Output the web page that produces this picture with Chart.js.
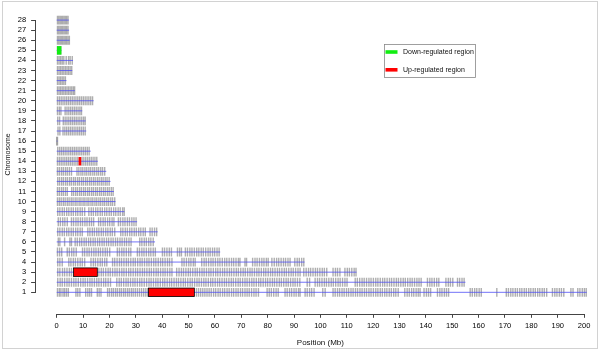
<!DOCTYPE html>
<html><head><meta charset="utf-8">
<script src="https://cdn.jsdelivr.net/npm/chart.js@4/dist/chart.umd.min.js"></script>
<style>
html,body{margin:0;padding:0;background:#fff;overflow:hidden;width:600px;height:353px;position:relative}
#wrap{position:absolute;left:0;top:-15px;width:611px;height:368px}
#frame{position:absolute;box-sizing:border-box;left:2px;top:1px;width:596px;height:348px;border:1.5px solid #d2d2d2;pointer-events:none}
</style></head>
<body>
<div id="wrap"><canvas id="c" width="611" height="368"></canvas></div>
<div id="frame"></div>
<script>
// ---- data ----
const chromosomes = [1,2,3,4,5,6,7,8,9,10,11,12,13,14,15,16,17,18,19,20,21,22,23,24,25,26,27,28];
const chrLengths = [201, 155, 113.7, 94, 62, 37.3, 38.3, 30.5, 25.7, 22.3, 21.7, 20.4, 18.8, 15.6, 12.9, 0.3, 11.2, 11, 9.7, 14, 6.9, 3.7, 5.9, 6.2, 1.8, 4.9, 4.7, 4.6];
const xTickValues = [0,10,20,30,40,50,60,70,80,90,100,110,120,130,140,150,160,170,180,190,200];

const regionChr = [1, 3, 14, 25];
const regionStart = [34.8, 6.4, 8.3, 0.1];
const regionEnd = [52.2, 15.4, 9.3, 1.8];
const regionType = ['up', 'up', 'up', 'down'];

const legendLabels = ['Down-regulated region', 'Up-regulated region'];
const xTitle = 'Position (Mb)';
const yTitle = 'Chromosome';

const markers1 = [0.3,1,1.6,2.4,3,3.7,4.4,7.3,8,8.8,11,11.8,12.5,13.2,15.4,16.1,16.8,19.3,20,20.8,21.5,22.3,23,23.8,24.5,25.3,26,26.8,27.5,28.3,29,29.8,30.6,31.4,32.2,33,33.8,34.5,53,53.8,54.6,55.4,56.2,57,57.8,58.6,59.5,60.3,61.2,62,62.9,63.7,64.6,65.4,66.3,67.1,68,68.8,69.7,70.5,71.4,72.2,73,73.9,74.8,75.6,76.5,79.8,80.6,81.4,82.3,83.2,84,86.6,87.4,88.3,89.1,90,90.8,91.7,92.3,94.2,95,95.9,96.7,97.6,100.9,101.8,104.8,105.6,106.5,107.3,108.2,109,109.9,110.7,111.6,112.4,113.3,114.1,115,115.8,116.7,117.5,118.4,119.2,120.1,121,121.8,122.7,123.5,124.4,125.2,126.1,126.9,127.8,128.6,129.5,132,132.9,133.7,134.6,135.4,136.3,137.1,137.8,139.3,140.2,141,141.8,144.4,145.3,146.1,147,147.8,148.6,156.8,157.6,158.5,159.3,160.2,161,166.9,170.5,171.3,172.2,173,173.9,174.7,175.6,176.4,177.3,178.1,179,179.8,180.7,181.5,182.4,183.2,184.1,184.9,185.8,188,188.9,189.7,190.6,191.4,192.3,195,195.8,197.6,198.4,199.3,200.1,200.8];
const markers2 = [0.4,1.3,2.1,3,3.9,4.7,5.6,6.5,7.3,8.2,9.1,10,10.8,11.7,12.6,13.4,14.3,15.2,16,16.9,17.8,18.6,19.5,20.4,22.8,23.7,24.5,25.4,26.3,27.1,28,28.9,29.7,30.6,31.5,32.3,33.2,34.1,35,35.8,36.7,37.6,38.4,39.3,40.2,41,41.9,42.8,43.6,44.5,45.4,46.2,47.1,48,48.8,49.7,50.6,51.4,52.3,53.2,54,54.9,55.8,56.6,57.5,58.4,59.2,60.1,61,61.8,62.7,63.6,64.4,65.3,66.2,67,67.9,68.8,69.6,70.5,71.4,72.2,73.1,74,74.8,75.7,76.6,77.4,78.3,79.2,80,80.9,81.8,82.6,83.5,84.4,85.2,86.1,87,87.8,88.7,89.6,90.4,91.3,92.2,95,95.9,98,98.9,99.7,100.6,101.5,102.3,103.2,104.1,104.9,105.8,106.7,107.5,108.4,109.3,110.1,113.2,114,114.9,115.8,116.6,117.5,118.4,119.2,120.1,121,121.8,122.7,123.6,124.4,125.3,126.2,127,127.9,128.8,129.6,130.5,131.4,132.2,133.1,134,134.8,135.7,136.6,137.4,138.2,140.6,141.5,142.3,143.2,144.1,144.9,147.6,148.5,149.3,150.2,152,152.8,153.7,154.5];
const markers3 = [0.4,1.2,2.2,3,3.9,4.8,5.6,16,16.9,17.7,18.6,19.5,20.3,21.2,22.1,22.9,23.8,24.7,25.5,26.4,27.3,28.1,29,29.9,30.7,31.6,32.5,33.3,34.2,35.1,35.9,36.8,37.7,38.5,39.4,40.3,41.1,42,42.9,43.7,45.5,46.4,47.3,48.1,49,49.9,50.7,51.6,52.5,53.3,54.2,55.1,55.9,56.8,57.7,58.5,59.4,60.3,61.1,62,62.9,63.7,64.6,65.5,66.3,67.2,68.1,68.9,69.8,70.7,71.5,72.4,73.3,74.1,75,75.9,76.7,77.6,78.5,79.3,80.2,81.1,81.9,82.8,83.7,84.5,85.4,86.3,87.1,88,88.9,89.7,90.6,91.5,92.3,93.7,94.6,95.5,96.3,97.2,98.1,98.9,99.8,100.7,101.5,102.4,104.8,105.7,106.5,107.4,109.3,110.2,111,111.9,112.8,113.5];
const markers4 = [0.4,1.2,2.1,4.6,5.4,6.3,7.1,8,8.9,9.7,10.6,13,13.9,14.7,15.6,16.5,17.3,18.2,19,21.2,22,22.9,23.8,24.6,25.5,26.4,27.2,28.1,29,29.8,30.7,31.6,32.4,33.3,34.2,35,35.9,36.8,37.6,38.5,39.4,40.2,41.1,42,42.8,43.7,47.5,48.3,49.2,50.1,50.9,51.8,52.5,55,55.9,56.7,57.6,58.5,59.3,60.2,61.1,61.9,62.8,63.7,64.5,65.4,66.3,67.1,68,68.9,69.5,71.4,72,74.3,75.2,76,76.9,77.8,78.6,79.5,80.2,81.6,82.5,83.4,84.2,85.1,86,86.8,87.7,88.5,90.3,91.2,92,92.9,93.7];
const markers5 = [0.3,1.1,1.9,4,4.8,5.7,6.5,7.4,9.8,10.6,11.5,12.3,13.2,14.1,14.9,15.8,16.6,17.5,18.4,19.2,20.1,23,23.8,24.7,25.5,26.4,27.3,28.1,30.6,31.4,32.3,33.1,34,34.9,35.7,36.6,37.4,40.1,40.9,41.8,42.7,43.5,45.8,46.6,47.3,48.8,49.6,50.5,51.3,52.2,53.1,53.9,54.8,55.6,56.5,57.4,58.2,59.1,59.9,60.8,61.6];
const markers6 = [0.6,1.2,3,5,5.6,7,7.8,8.7,9.5,10.4,11.2,12.1,12.9,13.8,14.6,15.5,16.3,17.2,18,18.9,19.7,20.6,21.4,22.3,23.1,24,24.8,25.7,26.5,27.4,28.2,31.5,32.3,33.2,34,34.9,35.7,36.6];
const markers7 = [0.4,1.2,2.1,2.9,3.8,4.6,5.5,6.3,7.2,8,8.9,9.7,11.8,12.6,13.5,14.3,15.2,16,16.9,17.7,18.6,19.4,20.3,21.1,22,24.3,25.1,26,26.8,27.7,28.5,29.4,30.2,31.1,31.9,32.8,33.6,35.4,36.2,37.1,37.9];
const markers8 = [0.6,1.4,2.3,3.1,4,5.6,6.4,7.3,8.1,9,9.8,10.7,11.5,12.4,13.2,14,15.9,16.7,17.6,18.4,19.3,20.1,21,21.7,23.4,24.2,25.1,25.9,26.8,27.6,28.5,29.3,30.1];
const markers9 = [0.4,1.2,2.1,2.9,3.8,4.6,5.5,6.3,7.2,8,8.9,9.7,10.6,12.2,13.1,13.9,14.8,15.6,16.5,17.3,18.2,19,19.9,20.7,21.6,22.4,23.3,24.1,25,25.6];
const markers10 = [0.3,1,1.7,2.5,3.2,4,4.7,5.5,6.2,7,7.7,8.5,9.2,10,10.7,11.5,12.2,13,13.7,14.5,15.2,16,16.7,17.5,18.2,19,19.7,20.5,21.2,22];
const markers11 = [0.3,1,1.8,2.5,3.3,4,5.7,6.4,7.2,7.9,8.7,9.4,10.2,10.9,11.7,12.4,13.2,13.9,14.7,15.4,16.2,16.9,17.7,18.4,19.2,19.9,20.7,21.4];
const markers12 = [0.4,1.1,1.9,2.6,3.4,4.1,4.9,5.6,6.4,7.1,7.9,8.6,9.4,10.1,10.9,11.6,12.4,13.1,13.9,14.6,15.4,16.1,16.9,17.6,18.4,19.1,19.9];
const markers13 = [0.3,1,1.8,2.5,3.3,4,4.8,5.6,7.7,8.4,9.2,9.9,10.7,11.4,12.2,12.9,13.7,14.4,15.2,15.9,16.7,17.4,18.2];
const markers14 = [0.3,1,1.7,2.4,3.1,3.8,4.5,5.2,5.9,6.6,7.3,8,9.6,10.3,11,11.7,12.4,13.1,13.8,14.5,15.2];
const markers15 = [0.4,1.1,1.8,2.5,3.2,3.9,4.6,5.3,6,6.7,7.4,8.1,8.8,9.5,10.2,10.9,11.6,12.3];
const markers16 = [0, 0.3];
const markers17 = [0.5,1.2,2.4,3.1,3.8,4.5,5.2,5.9,6.6,7.3,8,8.7,9.4,10.1,10.8];
const markers18 = [0.4,1.1,2.5,3.2,3.9,4.6,5.3,6,6.7,7.4,8.1,8.8,9.5,10.2,10.8];
const markers19 = [0.3,1,1.6,3.2,3.9,4.6,5.3,6,6.7,7.4,8.1,8.8,9.4];
const markers20 = [0.3,1,1.7,2.4,3.1,3.8,4.5,5.2,5.9,6.6,7.3,8,8.7,9.4,10.1,10.8,11.5,12.2,12.9,13.6];
const markers21 = [0.3,0.9,1.5,2.1,2.7,3.3,3.9,4.5,5.1,5.7,6.3,6.8];
const markers22 = [0.3,0.9,1.5,2.1,2.7,3.3];
const markers23 = [0.3,0.9,1.5,2.1,2.7,3.3,3.9,4.5,5.1,5.7];
const markers24 = [0.3,0.9,1.5,2.1,2.7,3.6,4.5,5.1,5.9];
const markers25 = [0.3,0.9,1.5];
const markers26 = [0.3,0.8,1.3,1.8,2.3,2.8,3.3,3.8,4.3,4.8];
const markers27 = [0.3,0.8,1.3,1.8,2.3,2.8,3.3,3.8,4.3];
const markers28 = [0.3,0.8,1.3,1.8,2.3,2.8,3.3,3.8,4.3];

const markerPositions = [markers1,markers2,markers3,markers4,markers5,markers6,markers7,markers8,markers9,markers10,markers11,markers12,markers13,markers14,markers15,markers16,markers17,markers18,markers19,markers20,markers21,markers22,markers23,markers24,markers25,markers26,markers27,markers28];

// ---- build datasets ----
const FONT = "'Liberation Sans', Arial, sans-serif";
const markerData = [];
chromosomes.forEach((c, i) => markerPositions[i].forEach(p => markerData.push({x: p, y: c})));

const datasets = [{
  label: 'markers',
  data: markerData,
  pointStyle: 'line',
  rotation: 90,
  pointRadius: 4.4,
  pointHoverRadius: 4.4,
  pointBorderWidth: 1.4,
  pointBorderColor: 'rgba(120,120,120,0.6)',
  borderColor: 'rgba(120,120,120,0.6)',
  order: 3
}];
chromosomes.forEach((c, i) => {
  datasets.push({
    label: 'chr' + c,
    data: [{x: 0, y: c}, {x: chrLengths[i], y: c}],
    showLine: true,
    borderColor: 'rgba(80,80,245,0.8)',
    borderWidth: 1,
    pointRadius: 0,
    pointHoverRadius: 0,
    order: 2
  });
});

const regionColors = {up: '#ff0000', down: '#11ee11'};

const axisLinePlugin = {
  id: 'axisLines',
  afterDraw(chart) {
    const {ctx, chartArea, scales: {x, y}} = chart;
    ctx.save();
    ctx.strokeStyle = '#444';
    ctx.lineWidth = 1;
    const by = Math.round(chartArea.bottom) + 0.5;
    ctx.beginPath();
    ctx.moveTo(x.getPixelForValue(xTickValues[0]), by);
    ctx.lineTo(x.getPixelForValue(xTickValues[xTickValues.length - 1]), by);
    const lx = Math.round(chartArea.left) - 0.5;
    ctx.moveTo(lx, y.getPixelForValue(chromosomes[0]));
    ctx.lineTo(lx, y.getPixelForValue(chromosomes[chromosomes.length - 1]));
    ctx.stroke();
    ctx.restore();
  }
};

const regionPlugin = {
  id: 'regions',
  afterDatasetsDraw(chart) {
    const {ctx, scales: {x, y}} = chart;
    ctx.save();
    regionChr.forEach((c, i) => {
      const x1 = x.getPixelForValue(regionStart[i]);
      const x2 = x.getPixelForValue(regionEnd[i]);
      const y1 = y.getPixelForValue(c + 0.42);
      const y2 = y.getPixelForValue(c - 0.42);
      ctx.fillStyle = regionColors[regionType[i]];
      ctx.fillRect(x1, y1, x2 - x1, y2 - y1);
      if (x2 - x1 > 10) {
        ctx.strokeStyle = '#000';
        ctx.lineWidth = 0.8;
        ctx.strokeRect(x1, y1, x2 - x1, y2 - y1);
      }
    });
    ctx.restore();
  }
};

const legendPlugin = {
  id: 'customLegend',
  afterDraw(chart) {
    const {ctx} = chart;
    const off = 15; // canvas offset
    ctx.save();
    ctx.strokeStyle = '#888';
    ctx.lineWidth = 0.8;
    ctx.strokeRect(384.5, 44.5 + off, 91, 33);
    const colors = [regionColors.down, regionColors.up];
    const ys = [52, 69.8];
    legendLabels.forEach((t, i) => {
      ctx.strokeStyle = colors[i];
      ctx.lineWidth = 3.6;
      ctx.beginPath();
      ctx.moveTo(385.5, ys[i] + off);
      ctx.lineTo(397.5, ys[i] + off);
      ctx.stroke();
      ctx.fillStyle = '#111';
      ctx.font = '7px ' + FONT;
      ctx.textAlign = 'left';
      ctx.textBaseline = 'middle';
      ctx.fillText(t, 403, ys[i] + off);
    });
    ctx.restore();
  }
};

new Chart(document.getElementById('c'), {
  type: 'scatter',
  data: {datasets},
  options: {
    responsive: false,
    animation: false,
    devicePixelRatio: 1,
    layout: {padding: {left: 0, right: 3.8, top: 5, bottom: 0}},
    plugins: {legend: {display: false}, tooltip: {enabled: false}},
    events: [],
    scales: {
      x: {
        type: 'linear', position: 'bottom', min: -8, max: 208,
        afterBuildTicks: s => { s.ticks = xTickValues.map(v => ({value: v})); },
        afterFit: s => { s.height = 38.7; },
        grid: {drawOnChartArea: false, drawTicks: true, tickLength: 3.5, color: '#444', lineWidth: 1},
        border: {display: false},
        ticks: {autoSkip: false, maxRotation: 0, minRotation: 0, padding: 4, color: '#000',
                font: {family: FONT, size: 7.5}, callback: v => String(v)},
        title: {display: true, text: xTitle, color: '#111', font: {family: FONT, size: 8},
                padding: {top: 0, bottom: 5.2}}
      },
      y: {
        type: 'linear', position: 'left', min: -1.18, max: 30.54,
        afterBuildTicks: s => { s.ticks = chromosomes.map(v => ({value: v})); },
        afterFit: s => { s.width = 35.6; },
        grid: {drawOnChartArea: false, drawTicks: true, tickLength: 4.5, color: '#444', lineWidth: 1},
        border: {display: false},
        ticks: {autoSkip: false, padding: 5, color: '#000', font: {family: FONT, size: 7.5}, callback: v => String(v)},
        title: {display: true, text: yTitle, color: '#111', font: {family: FONT, size: 7}, padding: {top: 4, bottom: 0}}
      }
    }
  },
  plugins: [axisLinePlugin, regionPlugin, legendPlugin]
});
</script>
</body></html>
